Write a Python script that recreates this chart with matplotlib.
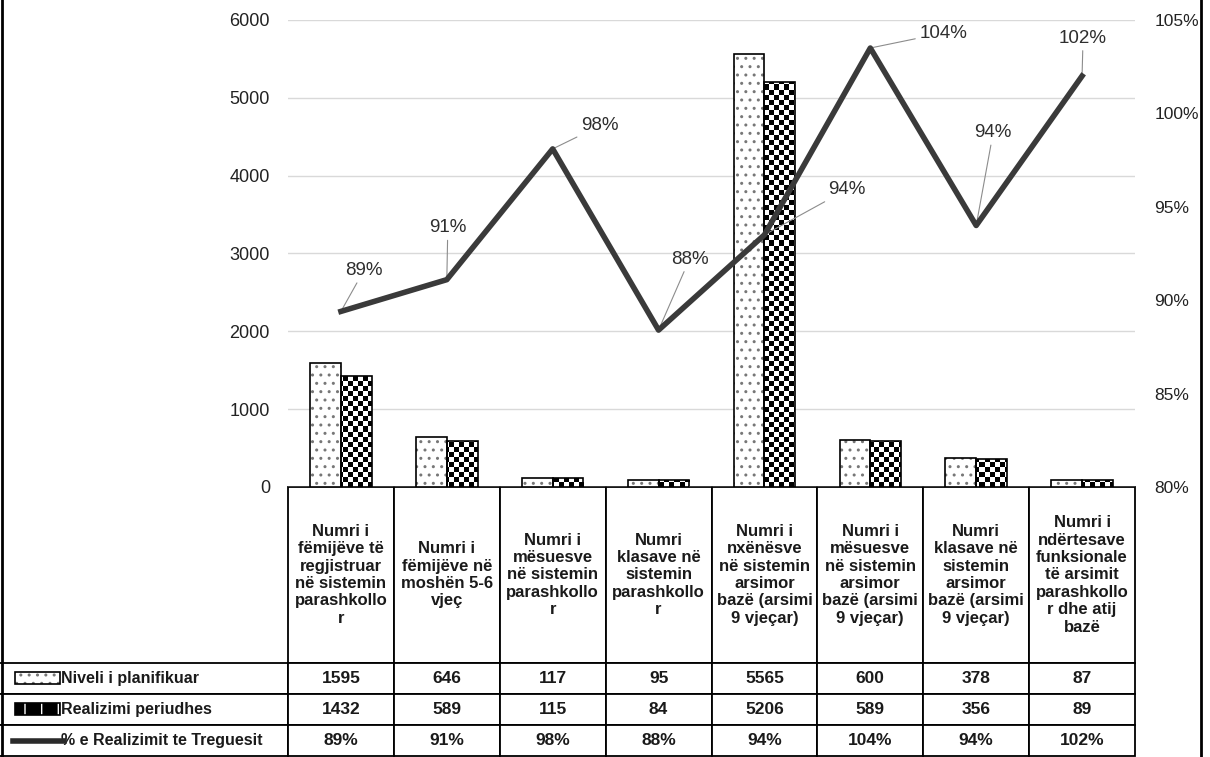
import numpy as np
import matplotlib.pyplot as plt
from matplotlib.lines import Line2D
from matplotlib.patches import Rectangle

categories = [
    "Numri i\nfëmijëve të\nregjistruar\nnë sistemin\nparashkollo\nr",
    "Numri i\nfëmijëve në\nmoshën 5-6\nvjeç",
    "Numri i\nmësuesve\nnë sistemin\nparashkollo\nr",
    "Numri\nklasave në\nsistemin\nparashkollo\nr",
    "Numri i\nnxënësve\nnë sistemin\narsimor\nbazë (arsimi\n9 vjeçar)",
    "Numri i\nmësuesve\nnë sistemin\narsimor\nbazë (arsimi\n9 vjeçar)",
    "Numri\nklasave në\nsistemin\narsimor\nbazë (arsimi\n9 vjeçar)",
    "Numri i\nndërtesave\nfunksionale\ntë arsimit\nparashkollo\nr dhe atij\nbazë",
]
planned = [1595, 646, 117, 95, 5565, 600, 378, 87]
realized = [1432, 589, 115, 84, 5206, 589, 356, 89]
# line values as drawn against the right axis
pct = [89.4, 91.1, 98.1, 88.4, 93.5, 103.5, 94.0, 102.0]
pct_labels = ["89%", "91%", "98%", "88%", "94%", "104%", "94%", "102%"]
series_names = ["Niveli i planifikuar", "Realizimi periudhes", "% e Realizimit te Treguesit"]

# label offsets (pixels) from each line point
label_offsets = [(23, 41), (1, 52), (47, 23), (31, 71), (82, 45), (73, 15), (17, 93), (1, 38)]

W, H = 1210, 757
narrow = ['Liberation Sans Narrow', 'Liberation Sans', 'DejaVu Sans']

fig = plt.figure(figsize=(W / 100, H / 100), dpi=100)

# plot area in pixels
px0, px1, py_top, py_bot = 288, 1135, 20, 487
aw, ah = px1 - px0, py_bot - py_top
ax = fig.add_axes([px0 / W, 1 - py_bot / H, aw / W, ah / H])
ax.set_xlim(-0.5, 7.5)
ax.set_ylim(0, 6000)
ax.set_yticks(range(0, 6001, 1000))
ax.set_xticks([])
ax.yaxis.grid(True, color='#d9d9d9', lw=1)
ax.set_axisbelow(True)
for s in ax.spines.values():
    s.set_visible(False)
ax.tick_params(axis='y', length=0, pad=13)
for t in ax.get_yticklabels():
    t.set_family(narrow)
    t.set_fontsize(13)
    t.set_color('#222222')

x = np.arange(len(planned))
w = 0.29

# dotted bars (planned)
ax.bar(x - w / 2, planned, w, color='white', edgecolor='#777777', hatch='..', linewidth=0, zorder=2)
ax.bar(x - w / 2, planned, w, facecolor='none', edgecolor='black', linewidth=1.2, zorder=3)

# checkered bars (realized)
rbars = ax.bar(x + w / 2, realized, w, facecolor='none', edgecolor='black', linewidth=1.2, zorder=3)
cell_px = 5
ny, nx = ah // cell_px, aw // cell_px
yy, xx = np.indices((ny, nx))
checker = (yy + xx) % 2
for p in rbars:
    im = ax.imshow(checker, cmap='gray', extent=(-0.5, 7.5, 0, 6000), aspect='auto',
                   interpolation='nearest', origin='lower', zorder=2.5)
    im.set_clip_path(p)
ax.set_xlim(-0.5, 7.5)
ax.set_ylim(0, 6000)

# percent line on secondary axis
ax2 = ax.twinx()
ax2.set_ylim(0.80, 1.05)
ax2.set_yticks([0.80, 0.85, 0.90, 0.95, 1.00, 1.05])
ax2.set_yticklabels(["80%", "85%", "90%", "95%", "100%", "105%"])
for s in ax2.spines.values():
    s.set_visible(False)
ax2.tick_params(axis='y', length=0, pad=14)
for t in ax2.get_yticklabels():
    t.set_family(narrow)
    t.set_fontsize(12.5)
    t.set_color('#222222')

yv = np.array(pct) / 100
ax2.plot(x, yv, color='#3a3a3a', lw=4, zorder=5)
for xi, yi, lbl, off in zip(x, yv, pct_labels, label_offsets):
    ax2.annotate(lbl, (xi, yi), xytext=off, textcoords='offset pixels',
                 ha='center', va='center', fontsize=13.5, color='#2e2e2e',
                 family=['Liberation Sans', 'DejaVu Sans'],
                 arrowprops=dict(arrowstyle='-', color='#8c8c8c', lw=0.8, shrinkA=1, shrinkB=2))

# data table under the chart, cell sizes given in axes units
cell_text = [[str(v) for v in planned], [str(v) for v in realized], pct_labels]
ty_top, ty_bot = 487, 756
label_col = 279
tbl = ax.table(cellText=cell_text, rowLabels=series_names, colLabels=categories,
               cellLoc='center', rowLoc='left',
               bbox=[0, -(ty_bot - ty_top) / ah, 1, (ty_bot - ty_top) / ah])
tbl.auto_set_font_size(False)
for (r, c), cell in tbl.get_celld().items():
    cell.set_width(label_col / aw if c == -1 else 1 / 8)
    cell.set_height((175 if r == 0 else 31) / ah)
    cell.set_linewidth(1.3)
    cell.set_edgecolor('black')
    txt = cell.get_text()
    txt.set_family(narrow)
    txt.set_fontweight('bold')
    txt.set_fontsize(12 if r == 0 else 12.5)
    txt.set_color('#1a1a1a')
    if c == -1:
        cell.PAD = 68 / label_col
        txt.set_fontsize(11.5)

# legend keys inside the row-label cells
def fx(p):
    return p / W

def fy(p):
    return 1 - p / H

row_mid = [677.5, 709, 740.5]
fig.add_artist(Rectangle((fx(15), fy(row_mid[0] + 6)), fx(45), 12 / H, facecolor='white',
                         edgecolor='#777777', hatch='..', lw=0, transform=fig.transFigure))
fig.add_artist(Rectangle((fx(15), fy(row_mid[0] + 6)), fx(45), 12 / H, facecolor='none',
                         edgecolor='black', lw=1.2, transform=fig.transFigure))
fig.add_artist(Rectangle((fx(15), fy(row_mid[1] + 6)), fx(45), 12 / H, facecolor='black',
                         edgecolor='white', hatch='|', lw=0, transform=fig.transFigure))
fig.add_artist(Rectangle((fx(15), fy(row_mid[1] + 6)), fx(45), 12 / H, facecolor='none',
                         edgecolor='black', lw=1.2, transform=fig.transFigure))
fig.add_artist(Line2D([fx(13), fx(64)], [fy(row_mid[2]), fy(row_mid[2])], color='#2a2a2a', lw=4,
                      transform=fig.transFigure))

# outer frame of the scanned chart
fig.add_artist(Line2D([fx(2), fx(2)], [0, 1], color='black', lw=2, transform=fig.transFigure))
fig.add_artist(Line2D([fx(1201), fx(1201)], [0, 1], color='black', lw=2, transform=fig.transFigure))

fig.savefig('out.png', dpi=100, facecolor='white')
